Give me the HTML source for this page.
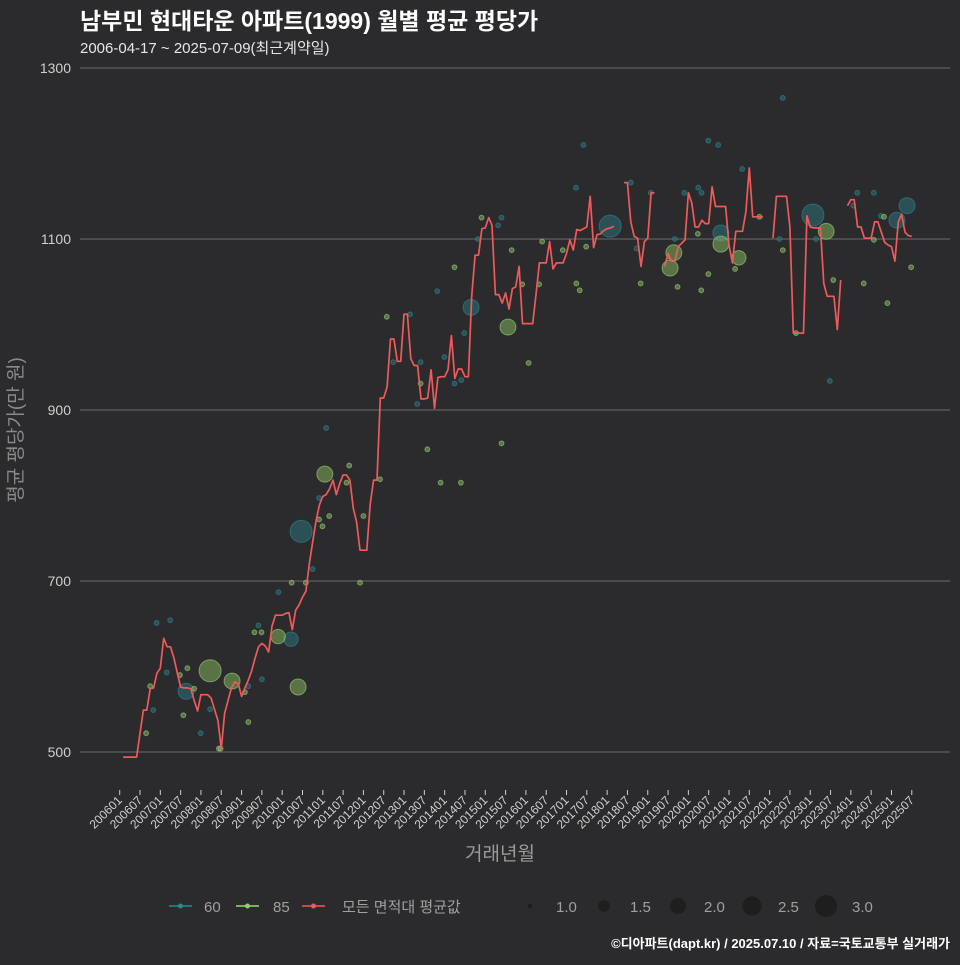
<!DOCTYPE html>
<html><head><meta charset="utf-8"><style>
body{margin:0;background:#2b2b2d;width:960px;height:960px;overflow:hidden;font-family:"Liberation Sans","Noto Sans CJK KR",sans-serif}
</style></head><body>
<svg id="chart" width="960" height="960" xmlns="http://www.w3.org/2000/svg" style="font-family:'Liberation Sans','Noto Sans CJK KR',sans-serif">
<rect width="960" height="960" fill="#2b2b2d"/>
<text x="80" y="29" fill="#ffffff" font-size="23" font-weight="bold">남부민 현대타운 아파트(1999) 월별 평균 평당가</text>
<text x="80" y="53" fill="#e6e6e6" font-size="15">2006-04-17 ~ 2025-07-09(최근계약일)</text>
<g id="grid"></g>
<g id="ylabels"></g>
<g id="xaxis"></g>
<g id="bubbles60"></g>
<g id="bubbles85"></g>
<g id="avgline"></g>
<text transform="translate(22,430) rotate(-90)" text-anchor="middle" fill="#8a8a8a" font-size="19">평균 평당가(만 원)</text>
<text x="500" y="860" text-anchor="middle" fill="#9a9a9a" font-size="19">거래년월</text>
<g font-size="15" fill="#a0a0a0">
<g><line x1="169" y1="906" x2="192" y2="906" stroke="#2a8a8f" stroke-width="1.5"/><circle cx="180.5" cy="906" r="2.5" fill="#2a8a8f"/><text x="204" y="912">60</text></g>
<g><line x1="236" y1="906" x2="259" y2="906" stroke="#8fe07a" stroke-width="1.5"/><circle cx="247.5" cy="906" r="2.5" fill="#8fcf6a"/><text x="273" y="912">85</text></g>
<g><line x1="302" y1="906" x2="325" y2="906" stroke="#ef5a5a" stroke-width="1.5"/><circle cx="313.5" cy="906" r="2.5" fill="#ef5a5a"/><text x="342" y="912">모든 면적대 평균값</text></g>
<g id="sizeLegend"></g>
</g>
<text x="950" y="948" text-anchor="end" fill="#ffffff" font-size="13" font-weight="bold">©디아파트(dapt.kr) / 2025.07.10 / 자료=국토교통부 실거래가</text>
</svg>
<script>
// average line: monthly values from 2006-01 (index 0) to 2025-07 (index 234); null = no data
const avgValues = [null,494,494,494,494,494,522,549,549,574,575,592,598,633,623,623,610,593,576,575,575,574,560,548,567,567,567,563,550,537,504,545,560,575,582,580,565,575,584,595,610,623,627,624,617,647,660,660,660,662,663,643,666,672,681,688,720,745,770,789,799,801,808,818,801,814,824,824,818,785,769,736,736,736,790,818,818,914,914,927,983,983,957,957,1012,1012,960,952,952,913,913,914,947,902,938,939,939,947,987,937,948,948,939,939,1033,1081,1081,1112,1113,1125,1116,1035,1035,1025,1037,1018,1042,1044,1068,1001,1001,1001,1001,1036,1072,1072,1072,1097,1065,1072,1072,1072,1083,1099,1087,1111,1110,1112,1114,1150,1090,1105,1106,1110,1112,1113,1115,null,null,1166,1166,1120,1103,1101,1068,1097,1101,1154,1154,null,null,1068,1083,1074,1074,1091,1095,1099,1154,1142,1114,1114,1122,1118,1118,1161,1138,1138,1138,1138,1093,1072,1109,1109,1109,1132,1183,1126,1126,1126,1126,null,null,1101,1150,1150,1150,1150,1114,990,990,990,990,1127,1114,1113,1113,1113,1048,1033,1033,1033,994,1052,null,1139,1146,1146,1114,1114,1101,1101,1101,1120,1120,1108,1096,1093,1091,1074,1120,1129,1108,1104,1103];
// 60㎡ series: month index, price, count-size
const s60Month = [53.6,19.6,50.6,103.8,144.9,177.6,204.8,232.6,229.6,10.9,14.9,13.9,9.9,23.9,26.7,41,42,38,46.9,57,58.9,61,137,134.8,112.8,111.8,105.8,93.8,85.8,88.9,95.9,98.9,100.9,101.8,87.9,80.8,195.9,173.9,176.8,183.9,151,156.9,166.8,170.9,171.9,217.9,222.8,152.7,164,194.9,205.7,224.9,209.8,216.7];
const s60Value = [758,571,632,1020,1115,1107,1128,1139,1122,651,654,593,549,522,550,648,585,577,687,714,797,879,1210,1160,1125,1116,1100,1039,1012,956,962,931,935,990,907,956,1265,1215,1210,1182,1166,1154,1154,1160,1154,1154,1154,1089,1100,1100,1100,1127,934,1139];
const s60Size = [3,2,1.8,2,3,2,3,2,2,1,1,1,1,1,1,1,1,1,1,1,1,1,1,1,1,1,1,1,1,1,1,1,1,1,1,1,1,1,1,1,1,1,1,1,1,1,1,1,1,1,1,1,1,1];
// 85㎡ series
const s85Month = [26.7,33.2,52.7,46.8,60.6,114.7,163.7,162.6,177.6,182.9,208.7,7.8,9,20,17.8,22,18.8,29.3,29.8,37,38,39.8,41.9,50.8,55,58.9,59.9,61.9,67.8,67,72,71,76.9,78.9,90.9,94.8,100.8,112.8,120.8,98.9,106.9,115.8,118.9,123.9,124.8,130.9,134.9,135.9,137.8,88.9,153.9,164.8,170.8,171.8,173.9,181.8,189,195.9,199.8,210.8,219.8,222.8,225.8,226.8,233.8];
const s85Value = [595,583,576,635,825,997,1084,1066,1094,1078,1109,522,577,598,590,574,543,504,504,570,535,640,640,698,698,772,764,776,835,815,776,698,819,1009,854,815,815,861,955,1067,1125,1087,1047,1047,1097,1087,1048,1040,1091,931,1048,1044,1106,1040,1059,1065,1126,1087,990,1052,1048,1099,1126,1025,1067];
const s85Size = [3,2,2,1.8,2,2,2,2,2,1.8,2,1,1,1,1,1,1,1,1,1,1,1,1,1,1,1,1,1,1,1,1,1,1,1,1,1,1,1,1,1,1,1,1,1,1,1,1,1,1,1,1,1,1,1,1,1,1,1,1,1,1,1,1,1,1];
const yTicks = [500,700,900,1100,1300];
const xTickLabels = [];
for (let y=2006;y<=2025;y++){ xTickLabels.push(y+'01'); xTickLabels.push(y+'07'); }
const sizeLegendValues = [1.0,1.5,2.0,2.5,3.0];

const NS='http://www.w3.org/2000/svg';
const xScale = m => 119.7 + 3.385*m;
const yScale = v => 752 - (v-500)*0.855;
const rScale = s => Math.max(2.3, 11*Math.sqrt(Math.max(0,(s-0.9))/2.1));
function mk(tag, attrs, parent){ const e=document.createElementNS(NS,tag); for(const k in attrs) e.setAttribute(k,attrs[k]); parent.appendChild(e); return e; }

const grid=document.getElementById('grid'), yl=document.getElementById('ylabels');
yTicks.forEach(t=>{
  const ln=mk('line',{x1:80,x2:950,y1:yScale(t),y2:yScale(t),stroke:'#6b6b6b','stroke-width':1},grid);
  
  
  const tx=mk('text',{x:71,y:yScale(t)+5,'text-anchor':'end',fill:'#cfcfcf','font-size':14},yl);
  tx.textContent=t;
  
  
});
const xa=document.getElementById('xaxis');
xTickLabels.forEach((lab,i)=>{
  const x=xScale(i*6);
  const tk=mk('line',{x1:x,x2:x,y1:790,y2:795,stroke:'#cfcfcf','stroke-width':1},xa);
  
  
  const tx=mk('text',{transform:`translate(${x+3},${801}) rotate(-45)`,'text-anchor':'end',fill:'#d0d0d0','font-size':12},xa);
  tx.textContent=lab;
  
  
});
function drawBubbles(gid, ms, vs, ss, fill, stroke){
  const g=document.getElementById(gid);
  ms.forEach((m,i)=>{
    const c=mk('circle',{cx:xScale(m),cy:yScale(vs[i]),r:rScale(ss[i]),fill:fill,'fill-opacity':0.55,stroke:stroke,'stroke-opacity':0.6,'stroke-width':1},g);
    
    
  });
}
drawBubbles('bubbles60', s60Month, s60Value, s60Size, '#2b6f78', '#2f8a93');
drawBubbles('bubbles85', s85Month, s85Value, s85Size, '#7fae5c', '#9fd37a');
const lg=document.getElementById('avgline');
let d='', pen=false;
avgValues.forEach((v,i)=>{
  if(v===null){pen=false;return;}
  d += (pen?'L':'M') + xScale(i).toFixed(1)+','+yScale(v).toFixed(1)+' ';
  pen=true;
});
const p=mk('path',{d:d,fill:'none',stroke:'#ef5a5a','stroke-width':1.7,'stroke-linejoin':'round'},lg);


const sl=document.getElementById('sizeLegend');
sizeLegendValues.forEach((s,i)=>{
  const cx=530+i*74;
  const c=mk('circle',{cx:cx,cy:906,r:rScale(s),fill:'#1c1c1c','fill-opacity':0.85},sl);
  
  
  const t=mk('text',{x:cx+26,y:912,fill:'#a0a0a0','font-size':15},sl);
  t.textContent=s.toFixed(1);
  
  
});
</script>
</body></html>
